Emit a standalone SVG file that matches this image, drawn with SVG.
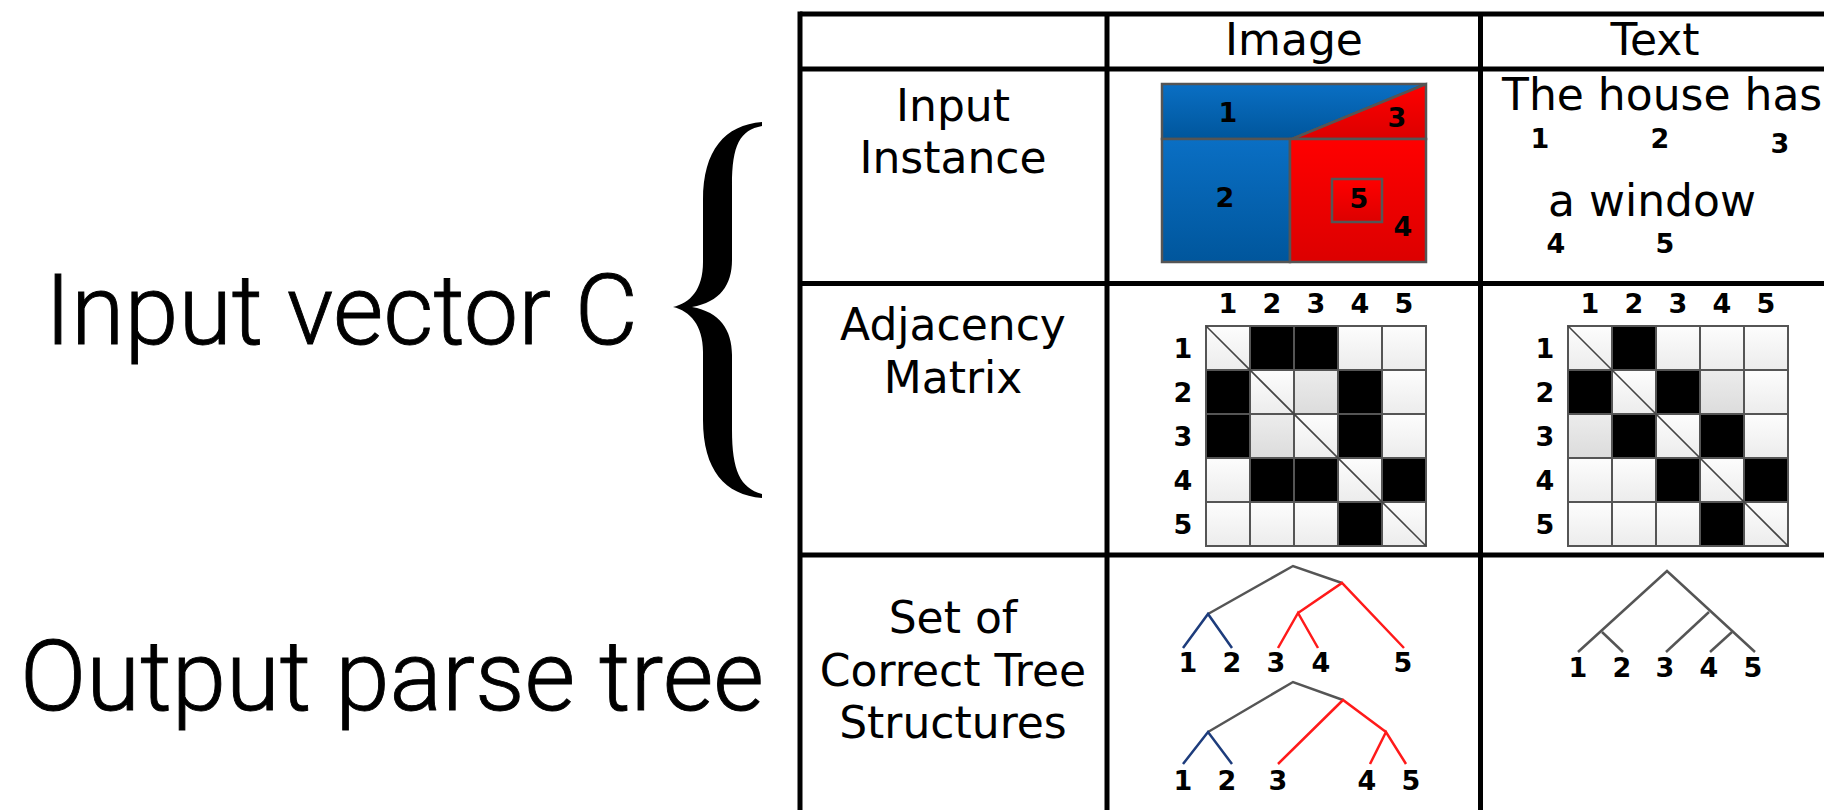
<svg xmlns="http://www.w3.org/2000/svg" width="1824" height="810" viewBox="0 0 1824 810">
<defs>
<linearGradient id="gBlue" x1="0" y1="0" x2="0" y2="1"><stop offset="0" stop-color="#0a6fc4"/><stop offset="1" stop-color="#00569c"/></linearGradient>
<linearGradient id="gRed" x1="0" y1="0" x2="0" y2="1"><stop offset="0" stop-color="#ff0000"/><stop offset="1" stop-color="#dc0000"/></linearGradient>
<linearGradient id="gCell" x1="0" y1="0" x2="0" y2="1"><stop offset="0" stop-color="#fdfdfd"/><stop offset="1" stop-color="#ececec"/></linearGradient>
<linearGradient id="gGrey" x1="0" y1="0" x2="0" y2="1"><stop offset="0" stop-color="#ececec"/><stop offset="1" stop-color="#dcdcdc"/></linearGradient>
<style>
.big{font-family:Roboto,"Liberation Sans",sans-serif;font-weight:300;font-size:99px;fill:#000;stroke:#000;stroke-width:0.9}
.lbl{font-family:"DejaVu Sans",Verdana,sans-serif;font-size:44px;fill:#000;text-anchor:middle}
.txt{font-family:"DejaVu Sans",Verdana,sans-serif;font-size:44px;fill:#000}
.num{font-family:"DejaVu Sans",Verdana,sans-serif;font-weight:bold;font-size:27px;fill:#000;text-anchor:middle}
.grid{stroke:#000;stroke-width:5;fill:none}
.cw{fill:url(#gCell);stroke:#555;stroke-width:2}
.cg{fill:url(#gGrey);stroke:#555;stroke-width:2}
.cb{fill:#000;stroke:#555;stroke-width:2}
.diag{stroke:#444;stroke-width:1.6}
.gr{stroke:#555;stroke-width:2.5;fill:none}
.bl{stroke:#1d3c7c;stroke-width:2.5;fill:none}
.rd{stroke:#ff1a1a;stroke-width:2.5;fill:none}
.shape{stroke:#555;stroke-width:2.5}
</style>
</defs>
<rect width="1824" height="810" fill="#fff"/>

<g id="label-input">
<text class="big" x="45" y="344" textLength="593" lengthAdjust="spacingAndGlyphs">Input vector C</text>
</g>
<g id="label-output">
<text class="big" x="20" y="710" textLength="744" lengthAdjust="spacingAndGlyphs">Output parse tree</text>
</g>
<g id="brace">
<path d="M762,122 C725,125 703,150 703,200 L703,262 C703,290 690,303 673,307 C690,311 703,325 703,352 L703,420 C703,470 725,495 762,498 L762,494 C740,488 732,470 732,430 L732,355 C732,330 720,312 692,307 C720,302 732,285 732,260 L732,185 C732,145 740,130 762,126 Z" fill="#000"/>
</g>

<g id="table-grid">
<line class="grid" x1="800" y1="14" x2="1824" y2="14"/>
<line class="grid" x1="800" y1="69" x2="1824" y2="69"/>
<line class="grid" x1="800" y1="283.5" x2="1824" y2="283.5"/>
<line class="grid" x1="800" y1="555" x2="1824" y2="555"/>
<line class="grid" x1="800" y1="11.5" x2="800" y2="810"/>
<line class="grid" x1="1107" y1="14" x2="1107" y2="810"/>
<line class="grid" x1="1480.5" y1="14" x2="1480.5" y2="810"/>
</g>

<g id="header-image"><text class="lbl" x="1294" y="55">Image</text></g>
<g id="header-text"><text class="lbl" x="1655" y="55">Text</text></g>

<g id="row-input-instance">
<text class="lbl" x="953" y="121">Input</text>
<text class="lbl" x="953" y="173">Instance</text>
</g>
<g id="row-adjacency">
<text class="lbl" x="953" y="340">Adjacency</text>
<text class="lbl" x="953" y="393">Matrix</text>
</g>
<g id="row-trees">
<text class="lbl" x="953" y="633">Set of</text>
<text class="lbl" x="953" y="686">Correct Tree</text>
<text class="lbl" x="953" y="738">Structures</text>
</g>

<g id="image-instance">
<polygon class="shape" points="1162,84 1426,84 1292,139 1162,139" fill="url(#gBlue)"/>
<polygon class="shape" points="1292,139 1426,84 1426,139" fill="url(#gRed)"/>
<rect class="shape" x="1162" y="139" width="128" height="123" fill="url(#gBlue)"/>
<rect class="shape" x="1290" y="139" width="136" height="123" fill="url(#gRed)"/>
<rect class="shape" x="1332" y="179" width="50" height="43" fill="url(#gRed)"/>
<text class="num" x="1228" y="122">1</text>
<text class="num" x="1225" y="207">2</text>
<text class="num" x="1397" y="127">3</text>
<text class="num" x="1359" y="208">5</text>
<text class="num" x="1403" y="236">4</text>
</g>

<g id="text-instance">
<text class="txt" x="1502" y="110">The house has</text>
<text class="num" x="1540" y="148">1</text>
<text class="num" x="1660" y="148">2</text>
<text class="num" x="1780" y="153">3</text>
<text class="txt" x="1548" y="216">a window</text>
<text class="num" x="1556" y="253">4</text>
<text class="num" x="1665" y="253">5</text>
</g>

<g id="image-matrix">
<text class="num" x="1228" y="313">1</text><text class="num" x="1272" y="313">2</text><text class="num" x="1316" y="313">3</text><text class="num" x="1360" y="313">4</text><text class="num" x="1404" y="313">5</text>
<text class="num" x="1183" y="358">1</text><text class="num" x="1183" y="402">2</text><text class="num" x="1183" y="446">3</text><text class="num" x="1183" y="490">4</text><text class="num" x="1183" y="534">5</text>
<rect class="cw" x="1206" y="326" width="44" height="44"/><rect class="cb" x="1250" y="326" width="44" height="44"/><rect class="cb" x="1294" y="326" width="44" height="44"/><rect class="cw" x="1338" y="326" width="44" height="44"/><rect class="cw" x="1382" y="326" width="44" height="44"/>
<rect class="cb" x="1206" y="370" width="44" height="44"/><rect class="cw" x="1250" y="370" width="44" height="44"/><rect class="cg" x="1294" y="370" width="44" height="44"/><rect class="cb" x="1338" y="370" width="44" height="44"/><rect class="cw" x="1382" y="370" width="44" height="44"/>
<rect class="cb" x="1206" y="414" width="44" height="44"/><rect class="cg" x="1250" y="414" width="44" height="44"/><rect class="cw" x="1294" y="414" width="44" height="44"/><rect class="cb" x="1338" y="414" width="44" height="44"/><rect class="cw" x="1382" y="414" width="44" height="44"/>
<rect class="cw" x="1206" y="458" width="44" height="44"/><rect class="cb" x="1250" y="458" width="44" height="44"/><rect class="cb" x="1294" y="458" width="44" height="44"/><rect class="cw" x="1338" y="458" width="44" height="44"/><rect class="cb" x="1382" y="458" width="44" height="44"/>
<rect class="cw" x="1206" y="502" width="44" height="44"/><rect class="cw" x="1250" y="502" width="44" height="44"/><rect class="cw" x="1294" y="502" width="44" height="44"/><rect class="cb" x="1338" y="502" width="44" height="44"/><rect class="cw" x="1382" y="502" width="44" height="44"/>
<line class="diag" x1="1206" y1="326" x2="1426" y2="546"/>
</g>

<g id="text-matrix">
<text class="num" x="1590" y="313">1</text><text class="num" x="1634" y="313">2</text><text class="num" x="1678" y="313">3</text><text class="num" x="1722" y="313">4</text><text class="num" x="1766" y="313">5</text>
<text class="num" x="1545" y="358">1</text><text class="num" x="1545" y="402">2</text><text class="num" x="1545" y="446">3</text><text class="num" x="1545" y="490">4</text><text class="num" x="1545" y="534">5</text>
<rect class="cw" x="1568" y="326" width="44" height="44"/><rect class="cb" x="1612" y="326" width="44" height="44"/><rect class="cw" x="1656" y="326" width="44" height="44"/><rect class="cw" x="1700" y="326" width="44" height="44"/><rect class="cw" x="1744" y="326" width="44" height="44"/>
<rect class="cb" x="1568" y="370" width="44" height="44"/><rect class="cw" x="1612" y="370" width="44" height="44"/><rect class="cb" x="1656" y="370" width="44" height="44"/><rect class="cg" x="1700" y="370" width="44" height="44"/><rect class="cw" x="1744" y="370" width="44" height="44"/>
<rect class="cg" x="1568" y="414" width="44" height="44"/><rect class="cb" x="1612" y="414" width="44" height="44"/><rect class="cw" x="1656" y="414" width="44" height="44"/><rect class="cb" x="1700" y="414" width="44" height="44"/><rect class="cw" x="1744" y="414" width="44" height="44"/>
<rect class="cw" x="1568" y="458" width="44" height="44"/><rect class="cw" x="1612" y="458" width="44" height="44"/><rect class="cb" x="1656" y="458" width="44" height="44"/><rect class="cw" x="1700" y="458" width="44" height="44"/><rect class="cb" x="1744" y="458" width="44" height="44"/>
<rect class="cw" x="1568" y="502" width="44" height="44"/><rect class="cw" x="1612" y="502" width="44" height="44"/><rect class="cw" x="1656" y="502" width="44" height="44"/><rect class="cb" x="1700" y="502" width="44" height="44"/><rect class="cw" x="1744" y="502" width="44" height="44"/>
<line class="diag" x1="1568" y1="326" x2="1788" y2="546"/>
</g>

<g id="connectors">
<polyline class="gr" points="1208,614 1293,566 1342,583"/>
<polyline class="bl" points="1183,648 1208,614 1232,648"/>
<polyline class="rd" points="1278,648 1298,613 1318,648"/>
<polyline class="rd" points="1298,613 1342,583 1404,648"/>
<polyline class="gr" points="1208,732 1293,682 1343,700"/>
<polyline class="bl" points="1183,764 1208,732 1232,764"/>
<polyline class="rd" points="1278,764 1343,700 1386,732"/>
<polyline class="rd" points="1370,764 1386,732 1406,764"/>
<polyline class="gr" points="1578,652 1667,571 1755,652"/>
<line class="gr" x1="1602" y1="632" x2="1623" y2="652"/>
<line class="gr" x1="1709" y1="612" x2="1666" y2="652"/>
<line class="gr" x1="1732" y1="632" x2="1710" y2="652"/>
</g>

<g id="tree-labels">
<text class="num" x="1188" y="672">1</text><text class="num" x="1232" y="672">2</text><text class="num" x="1276" y="672">3</text><text class="num" x="1321" y="672">4</text><text class="num" x="1403" y="672">5</text>
<text class="num" x="1183" y="790">1</text><text class="num" x="1227" y="790">2</text><text class="num" x="1278" y="790">3</text><text class="num" x="1367" y="790">4</text><text class="num" x="1411" y="790">5</text>
<text class="num" x="1578" y="677">1</text><text class="num" x="1622" y="677">2</text><text class="num" x="1665" y="677">3</text><text class="num" x="1709" y="677">4</text><text class="num" x="1753" y="677">5</text>
</g>
</svg>
